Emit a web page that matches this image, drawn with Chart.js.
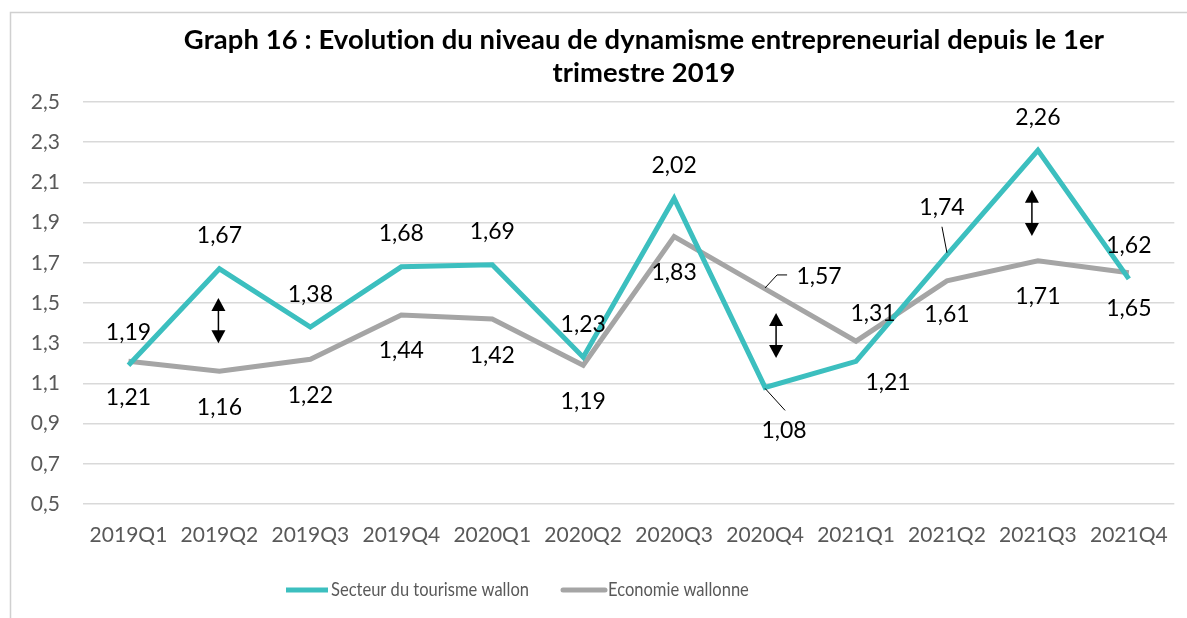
<!DOCTYPE html>
<html>
<head>
<meta charset="utf-8">
<script src="https://cdn.jsdelivr.net/npm/chart.js@4"></script>
<style>
	html, body { margin: 0; padding: 0; background: #ffffff; }
	#wrap { width: 1187px; height: 618px; }
</style>
</head>
<body>
<div id="wrap"><canvas id="myChart" width="1187" height="618"></canvas></div>
<script>
/*
Graph 16 - dynamisme entrepreneurial, tourisme vs economie wallonne
*/

const quarters = ['2019Q1', '2019Q2', '2019Q3', '2019Q4', '2020Q1', '2020Q2', '2020Q3', '2020Q4', '2021Q1', '2021Q2', '2021Q3', '2021Q4'];
const tourisme = [1.19, 1.67, 1.38, 1.68, 1.69, 1.23, 2.02, 1.08, 1.21, 1.74, 2.26, 1.62];
const economie = [1.21, 1.16, 1.22, 1.44, 1.42, 1.19, 1.83, 1.57, 1.31, 1.61, 1.71, 1.65];
const seriesNames = ['Secteur du tourisme wallon', 'Economie wallonne'];
const yMin = 0.5;
const yMax = 2.5;
const yStep = 0.2;
const titleLines = ['Graph 16 : Evolution du niveau de dynamisme entrepreneurial depuis le 1er', 'trimestre 2019'];

// label placement (pixel offsets from the point), leader lines where excel drew them
const above = { dx: 0, dy: -33 };
const below = { dx: 0, dy: 36 };
const tourismeLabels = [above, above, above, above, above, above, above,
	{ dx: 19, dy: 43, leader: [[0, 1], [20, 23]] },
	{ dx: 32, dy: 21 },
	{ dx: -5, dy: -47, leader: [[0, -2], [-5, -28]] },
	above, above];
const economieLabels = [below, below, below, below, below, below, below,
	{ dx: 54, dy: -12, leader: [[0, -1], [12, -14], [22, -14]] },
	{ dx: 17, dy: -28 },
	{ dx: 0, dy: 34 },
	below, below];

// double arrows between the two curves (index, value top, value bottom, x shift)
const arrows = [
	{ i: 1, top: 1.525, bottom: 1.30, dx: -1 },
	{ i: 7, top: 1.45, bottom: 1.226, dx: 11 },
	{ i: 10, top: 2.063, bottom: 1.833, dx: -6 }
];

const FONT = 'Lato, "Open Sans", sans-serif';
const fmt = v => v.toFixed(2).replace('.', ',');

// font size so that a text fills a given width
function fitSize(ctx, text, weight, target) {
	ctx.font = weight + ' 100px ' + FONT;
	return 100 * target / ctx.measureText(text).width;
}

const decorPlugin = {
	id: 'decor',
	beforeDraw: (chart) => {
		const { ctx } = chart;
		ctx.save();
		ctx.fillStyle = '#ffffff';
		ctx.fillRect(0, 0, chart.width, chart.height);
		// outer frame
		ctx.strokeStyle = '#d0d0d0';
		ctx.lineWidth = 1.5;
		ctx.beginPath();
		ctx.moveTo(10.5, chart.height);
		ctx.lineTo(10.5, 12.5);
		ctx.lineTo(chart.width, 12.5);
		ctx.stroke();
		// title (tiny letter spacing keeps lato from using its "ti" ligature)
		ctx.letterSpacing = '0.1px';
		ctx.fillStyle = '#000000';
		ctx.textAlign = 'center';
		ctx.textBaseline = 'middle';
		const size = fitSize(ctx, titleLines[0], 'bold', 915);
		ctx.font = 'bold ' + size.toFixed(1) + 'px ' + FONT;
		ctx.fillText(titleLines[0], 644, 40);
		ctx.fillText(titleLines[1], 644, 73);
		ctx.restore();
	},
	afterDatasetsDraw: (chart) => {
		const { ctx } = chart;
		const xs = chart.scales.x;
		const ys = chart.scales.y;
		ctx.save();

		// arrows
		ctx.fillStyle = '#000000';
		ctx.strokeStyle = '#000000';
		arrows.forEach(a => {
			const x = xs.getPixelForValue(a.i) + a.dx;
			const y1 = ys.getPixelForValue(a.top);
			const y2 = ys.getPixelForValue(a.bottom);
			ctx.lineWidth = 1.5;
			ctx.beginPath();
			ctx.moveTo(x, y1 + 10);
			ctx.lineTo(x, y2 - 10);
			ctx.stroke();
			ctx.beginPath();
			ctx.moveTo(x, y1);
			ctx.lineTo(x - 7, y1 + 13);
			ctx.lineTo(x + 7, y1 + 13);
			ctx.closePath();
			ctx.fill();
			ctx.beginPath();
			ctx.moveTo(x, y2);
			ctx.lineTo(x - 7, y2 - 13);
			ctx.lineTo(x + 7, y2 - 13);
			ctx.closePath();
			ctx.fill();
		});

		// data labels
		ctx.font = '23px ' + FONT;
		ctx.textAlign = 'center';
		ctx.textBaseline = 'middle';
		const placements = [tourismeLabels, economieLabels];
		chart.data.datasets.forEach((ds, d) => {
			const meta = chart.getDatasetMeta(d);
			meta.data.forEach((pt, i) => {
				const p = placements[d][i];
				if (p.leader) {
					ctx.lineWidth = 1;
					ctx.beginPath();
					p.leader.forEach((o, k) => {
						if (k == 0) ctx.moveTo(pt.x + o[0], pt.y + o[1]);
						else ctx.lineTo(pt.x + o[0], pt.y + o[1]);
					});
					ctx.stroke();
				}
				ctx.fillStyle = '#000000';
				ctx.fillText(fmt(ds.data[i]), pt.x + p.dx, pt.y + p.dy);
			});
		});

		// legend: 20px text squeezed a bit to the narrow width of the original font
		const legendX = [286, 563];
		ctx.font = '20px ' + FONT;
		const squeeze = 198 / ctx.measureText(seriesNames[0]).width;
		ctx.textAlign = 'left';
		chart.data.datasets.forEach((ds, d) => {
			const x = legendX[d];
			ctx.strokeStyle = ds.borderColor;
			ctx.lineWidth = 5;
			ctx.lineCap = d == 0 ? 'butt' : 'round';
			ctx.beginPath();
			ctx.moveTo(x, 590);
			ctx.lineTo(x + 42, 590);
			ctx.stroke();
			ctx.save();
			ctx.translate(x + 45, 590);
			ctx.scale(squeeze, 1);
			ctx.fillStyle = '#595959';
			ctx.fillText(ds.label, 0, 0);
			ctx.restore();
		});
		ctx.restore();
	}
};

const config = {
	type: 'line',
	data: {
		labels: quarters,
		datasets: [{
			label: seriesNames[0],
			data: tourisme,
			borderColor: '#3cbfbf',
			backgroundColor: '#3cbfbf',
			borderWidth: 5,
			pointRadius: 0,
			tension: 0,
			fill: false
		}, {
			label: seriesNames[1],
			data: economie,
			borderColor: '#a5a5a5',
			backgroundColor: '#a5a5a5',
			borderWidth: 5,
			pointRadius: 0,
			tension: 0,
			fill: false
		}]
	},
	options: {
		responsive: false,
		animation: false,
		devicePixelRatio: 1,
		layout: {
			padding: { top: 102, right: 7, bottom: 0, left: 0 }
		},
		scales: {
			x: {
				offset: true,
				grid: { display: false, drawTicks: false },
				border: { display: false },
				ticks: {
					color: '#595959',
					font: { family: FONT, size: 21 },
					padding: 19,
					maxRotation: 0
				},
				afterFit: (scale) => { scale.height = 114; }
			},
			y: {
				min: yMin,
				max: yMax,
				grid: { color: '#d9d9d9', lineWidth: 1.5, drawTicks: false },
				border: { display: false },
				ticks: {
					stepSize: yStep,
					color: '#595959',
					font: { family: FONT, size: 21 },
					padding: 23,
					callback: (v) => v.toFixed(1).replace('.', ',')
				},
				afterFit: (scale) => { scale.width = 83; }
			}
		},
		plugins: {
			legend: { display: false },
			title: { display: false },
			tooltip: { enabled: false }
		}
	},
	plugins: [decorPlugin]
};

const myChart = new Chart(document.getElementById('myChart').getContext('2d'), config);
</script>
</body>
</html>
